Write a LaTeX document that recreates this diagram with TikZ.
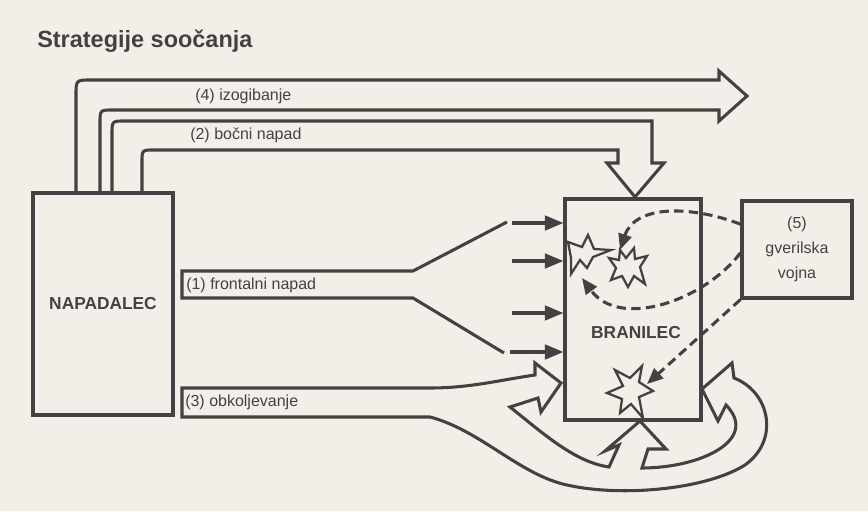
\documentclass[tikz,border=0pt]{standalone}
\usepackage{fontspec}
\setmainfont{Liberation Sans}
\usetikzlibrary{arrows.meta}
\definecolor{ink}{RGB}{70,64,66}
\definecolor{paper}{RGB}{243,239,232}
\begin{document}
\begin{tikzpicture}[x=0.75pt,y=-0.75pt,
  ink line/.style={draw=ink,line width=2.3pt,line join=miter,line cap=butt},
  box/.style={ink line,inner sep=0pt},
  lbl/.style={text=ink,font=\fontsize{12}{14}\selectfont,inner sep=0pt},
  boldlbl/.style={text=ink,font=\bfseries\fontsize{13}{15}\selectfont},
  thin arrow/.style={ink line,-{Triangle[length=14pt,width=11pt]}},
  dash arrow/.style={ink line,dash pattern=on 7pt off 4pt,-{Triangle[length=12pt,width=10pt]}},
  starburst/.style={ink line,line width=1.7pt},
]
\fill[paper] (0,0) rectangle (868,511);
\useasboundingbox (0,0) rectangle (868,511);

% title
\node[anchor=base west,text=ink,font=\bfseries\fontsize{17.6}{20}\selectfont,inner sep=0pt] (title) at (37,47) {Strategije soočanja};

% boxes
\node[box,boldlbl,minimum width=105pt,minimum height=166.5pt] (nap) at (103,304) {NAPADALEC};
\node[box,minimum width=102pt,minimum height=165.75pt] (bran) at (633,309.5) {};
\node[boldlbl,inner sep=0pt] (branlbl) at (636,333) {BRANILEC};
\node[box,lbl,align=center,font=\fontsize{12}{18.5}\selectfont,minimum width=82.5pt,minimum height=72.75pt] (guer) at (797,249.5) {(5)\\gverilska\\vojna};

% (4) izogibanje
\draw[ink line] (76,193) -- (76,95) .. controls (76,80) .. (91,80) -- (719,80) -- (719,71) -- (747,96) -- (719,121) -- (719,110) -- (113,110) .. controls (100,110) .. (100,123) -- (100,193);
\node[lbl,anchor=base west] (l4) at (195,100) {(4) izogibanje};

% (2) bocni napad
\draw[ink line] (112,193) -- (112,134) .. controls (112,121) .. (125,121) -- (652,121) -- (652,163) -- (664,163) -- (635,197) -- (607,163) -- (618,163) -- (618,150) -- (154,150) .. controls (142,150) .. (142,162) -- (142,193);
\node[lbl,anchor=base west] (l2) at (190,139) {(2) bočni napad};

% (1) frontalni napad
\draw[ink line] (507,222) -- (413,271) -- (182,271) -- (182,298) -- (413,298) -- (504,353);
\node[lbl,anchor=base west] (l1) at (186,289) {(1) frontalni napad};

\coordinate (f1) at (512,223);
\coordinate (f2) at (512,261);
\coordinate (f3) at (512,313);
\coordinate (f4) at (510,352);
\draw[thin arrow] (f1) -- (f1 -| bran.west);
\draw[thin arrow] (f2) -- (f2 -| bran.west);
\draw[thin arrow] (f3) -- (f3 -| bran.west);
\draw[thin arrow] (f4) -- (f4 -| bran.west);

% (3) obkoljevanje
\draw[ink line] (182,388) -- (430,388) .. controls (470,388) and (500,380) .. (535,375) -- (535,363) -- (561,383) -- (541,412) -- (538,398) -- (510,407) .. controls (545,435) and (575,462) .. (609,467) -- (619,445) -- (605,451) -- (640,421) -- (666,449) -- (648,449) -- (642,468) .. controls (700,468) and (760,440) .. (726,405) -- (718,421) -- (702,389) -- (732,363) -- (734,378) .. controls (770,392) and (780,440) .. (745,465) .. controls (705,490) and (620,497) .. (567,485) .. controls (520,475) and (480,430) .. (430,417) -- (182,417) -- cycle;
\node[lbl,anchor=base west] (l3) at (185,406) {(3) obkoljevanje};

% explosions
\draw[starburst] (568,242) -- (582,247) -- (588,235) -- (594,249) -- (611,250) -- (593,257) -- (587,268) -- (580,260) -- (571,274) -- (571,258) -- cycle;
\draw[starburst] (620,250) -- (626,258) -- (634,248) -- (635,259) -- (647,256) -- (640,267) -- (645,284) -- (634,276) -- (628,287) -- (622,276) -- (611,280) -- (616,268) -- (609,258) -- (619,260) -- cycle;
\draw[starburst] (607,393) -- (623,386) -- (615,370) -- (630,378) -- (642,366) -- (639,382) -- (653,391) -- (639,397) -- (643,418) -- (631,404) -- (620,413) -- (622,399) -- cycle;

% (5) gverilska vojna - dashed attacks
\draw[dash arrow] ([yshift=19pt]guer.west) .. controls (690,205) and (635,205) .. (620,250);
\draw[dash arrow] ([yshift=-2.5pt]guer.west) .. controls (705,300) and (620,330) .. (582,278);
\draw[dash arrow] (guer.south west) -- (647,384);
\end{tikzpicture}
\end{document}
